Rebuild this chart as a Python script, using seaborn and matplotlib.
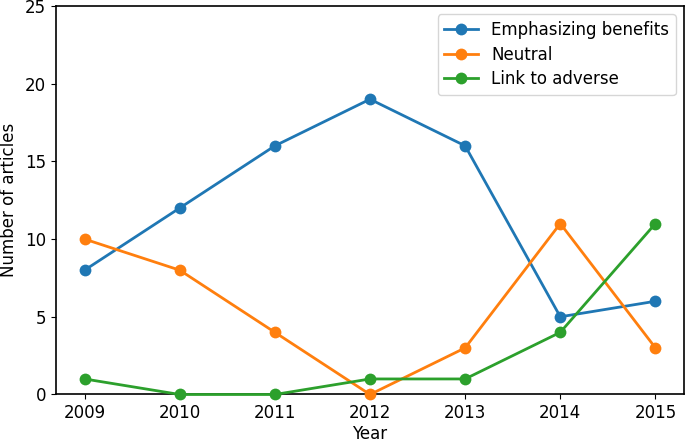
import matplotlib
matplotlib.use("Agg")
import matplotlib.pyplot as plt
import seaborn as sns
import pandas as pd

years = [2009, 2010, 2011, 2012, 2013, 2014, 2015]
benefits = [8, 12, 16, 19, 16, 5, 6]
neutral = [10, 8, 4, 0, 3, 11, 3]
adverse = [1, 0, 0, 1, 1, 4, 11]
series_names = ["Emphasizing benefits", "Neutral", "Link to adverse"]

df = pd.concat([
    pd.DataFrame({"Year": years, "Count": benefits, "Series": series_names[0]}),
    pd.DataFrame({"Year": years, "Count": neutral, "Series": series_names[1]}),
    pd.DataFrame({"Year": years, "Count": adverse, "Series": series_names[2]}),
])

plt.rcParams['font.family'] = ['DejaVu Sans']
fig = plt.figure(figsize=(6.85, 4.43), dpi=100)
ax = fig.add_axes([0.0818, 0.1095, 0.9167, 0.877])
palette = ["#1f77b4", "#ff7f0e", "#2ca02c"]
sns.lineplot(data=df, x="Year", y="Count", hue="Series", hue_order=series_names,
             palette=palette, marker="o", markersize=8.5, markeredgewidth=0,
             linewidth=2, ax=ax, clip_on=False, zorder=3)
ax.set_ylim(0, 25)
ax.set_xlim(2008.7, 2015.3)
ax.set_xticks(years)
ax.set_yticks([0, 5, 10, 15, 20, 25])
ax.set_xlabel("Year", fontsize=12, labelpad=2)
ax.set_ylabel("Number of articles", fontsize=12, labelpad=5)
ax.tick_params(labelsize=12)
for s in ax.spines.values():
    s.set_linewidth(1.2)
leg = ax.legend(loc="upper right", fontsize=12, title=None, labelspacing=0.4)
leg.set_zorder(5)
fig.savefig("out.png", dpi=100)
